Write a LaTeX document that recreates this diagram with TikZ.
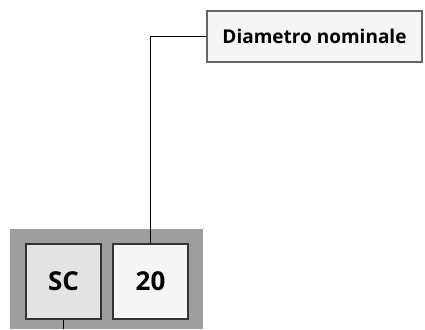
\documentclass[tikz,border=0pt]{standalone}
\usepackage{fontspec}
\setmainfont{Open Sans}
\usetikzlibrary{positioning}

\begin{document}
\begin{tikzpicture}[
  x=1pt, y=-1pt,
  font=\bfseries,
  n/.style={draw=black!80, line width=1.2pt, minimum width=75pt,
    minimum height=75pt, inner sep=0pt, font=\fontsize{26}{30}\selectfont\bfseries},
  lbl/.style={draw=black!60, line width=1.4pt, fill=black!4, minimum width=215pt,
    minimum height=51pt, inner sep=0pt, font=\fontsize{19}{23}\selectfont\bfseries},
  c/.style={line width=0.9pt, black}
]
\useasboundingbox (0,0) rectangle (425,329);
\fill[black!38] (10,229) rectangle (203,329);
\node[n, fill=black!11] (sc) at (63.5,281.5) {SC};
\node[n, fill=black!4] (dn) at (150.5,281.5) {20};
\node[lbl] (diam) at (314.5,36.5) {Diametro nominale};
\coordinate (scend) at (63.5,329);
\draw[c] (dn.north) |- (diam.west);
\draw[c] (sc.south) -- (scend);
\end{tikzpicture}
\end{document}
